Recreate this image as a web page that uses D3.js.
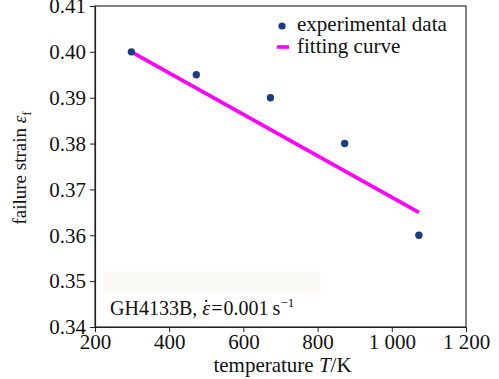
<!DOCTYPE html>
<html>
<head>
<meta charset="utf-8">
<script src="https://cdnjs.cloudflare.com/ajax/libs/d3/7.8.5/d3.min.js"></script>
<style>
  body { margin: 0; background: #fff; }
  svg, text { font-family: "Liberation Serif", "Times New Roman", serif; }
</style>
</head>
<body>
<div id="chart"></div>
<script>
// data
const temps = [298, 473, 673, 873, 1073];
const strains = [0.400, 0.395, 0.390, 0.380, 0.360];
const fitTemps = [298, 1073];
const fitStrains = [0.400, 0.365];
const xTicks = [200, 400, 600, 800, 1000, 1200];
const yTicks = [0.34, 0.35, 0.36, 0.37, 0.38, 0.39, 0.40, 0.41];

const W = 499, H = 379;
const margin = { top: 6, right: 33, bottom: 52, left: 95 };
const width = W - margin.left - margin.right;
const height = H - margin.top - margin.bottom;

const svg = d3.select("#chart").append("svg")
  .attr("width", W)
  .attr("height", H);

const g = svg.append("g")
  .attr("transform", `translate(${margin.left},${margin.top})`);

const x = d3.scaleLinear().domain([200, 1200]).range([0, width]);
const y = d3.scaleLinear().domain([0.34, 0.41]).range([height, 0]);

// annotation background
g.append("rect")
  .attr("x", 9).attr("y", 265)
  .attr("width", 217).attr("height", 22)
  .attr("fill", "#fcfaf6");

// frame
g.append("rect")
  .attr("width", width).attr("height", height)
  .attr("fill", "none").attr("stroke", "#333").attr("stroke-width", 1.2);

const fmtX = d => d >= 1000 ? String(d).replace(/^(\d)(\d{3})$/, "$1 $2") : d;

const xAxis = g.append("g")
  .attr("transform", `translate(0,${height})`)
  .call(d3.axisBottom(x).tickValues(xTicks).tickFormat(fmtX).tickSize(5).tickSizeOuter(0));
const yAxis = g.append("g")
  .call(d3.axisLeft(y).tickValues(yTicks).tickFormat(d3.format(".2f")).tickSize(5).tickSizeOuter(0));

[xAxis, yAxis].forEach(a => {
  a.attr("font-family", null).attr("font-size", null);
  a.select(".domain").attr("stroke", "#222").attr("stroke-width", 1.2);
  a.selectAll(".tick line").attr("stroke", "#222");
  a.selectAll("text").style("font-family", "'Liberation Serif', serif")
    .style("font-size", "21px").attr("fill", "#111");
});
xAxis.selectAll("text").attr("y", 7).attr("dy", "0.71em");
yAxis.selectAll("text").attr("x", -9);

// fitting line
g.append("path")
  .datum(fitTemps.map((t, i) => [t, fitStrains[i]]))
  .attr("fill", "none")
  .attr("stroke", "#ff00ff")
  .attr("stroke-width", 3.6)
  .attr("d", d3.line().x(d => x(d[0])).y(d => y(d[1])));

// data points
g.selectAll("circle.pt")
  .data(temps.map((t, i) => ({ t, s: strains[i] })))
  .enter()
  .append("circle")
  .attr("class", "pt")
  .attr("cx", d => x(d.t))
  .attr("cy", d => y(d.s))
  .attr("r", 3.7)
  .attr("fill", "#1b3b85");

// legend
const leg = g.append("g").attr("transform", "translate(187,20)");
leg.append("circle").attr("cx", 0).attr("cy", 0).attr("r", 3.6).attr("fill", "#1b3b85");
leg.append("text").attr("x", 15).attr("y", 5).style("font-size", "21px").attr("fill", "#111")
  .text("experimental data");
leg.append("line").attr("x1", -5).attr("x2", 7).attr("y1", 21).attr("y2", 21)
  .attr("stroke", "#ff00ff").attr("stroke-width", 3.6);
leg.append("text").attr("x", 15).attr("y", 27).style("font-size", "21px").attr("fill", "#111")
  .text("fitting curve");

// annotation
const ann = g.append("text").attr("x", 15).attr("y", 309).style("font-size", "20px").attr("fill", "#111");
ann.append("tspan").text("GH4133B, ");
ann.append("tspan").style("font-style", "italic").text("\u03b5");
ann.append("tspan").attr("dx", -7.5).attr("dy", -1).text("\u02d9");
ann.append("tspan").attr("dx", 2).attr("dy", 1).text("=");
ann.append("tspan").attr("dx", 1).text("0.001\u2009s");
ann.append("tspan").attr("dy", -8).style("font-size", "13px").text("\u22121");

// axis titles
const xt = svg.append("text")
  .attr("x", margin.left + width / 2 + 2)
  .attr("y", 372)
  .attr("text-anchor", "middle")
  .style("font-size", "21px").attr("fill", "#111");
xt.append("tspan").text("temperature ");
xt.append("tspan").style("font-style", "italic").text("T");
xt.append("tspan").text("/K");

const yt = svg.append("text")
  .attr("transform", `translate(26,${margin.top + 162}) rotate(-90)`)
  .attr("text-anchor", "middle")
  .style("font-size", "19px").attr("fill", "#111");
yt.append("tspan").text("failure strain ");
yt.append("tspan").style("font-style", "italic").text("\u03b5");
yt.append("tspan").attr("dy", 5).style("font-size", "13px").text("f");
</script>
</body>
</html>
